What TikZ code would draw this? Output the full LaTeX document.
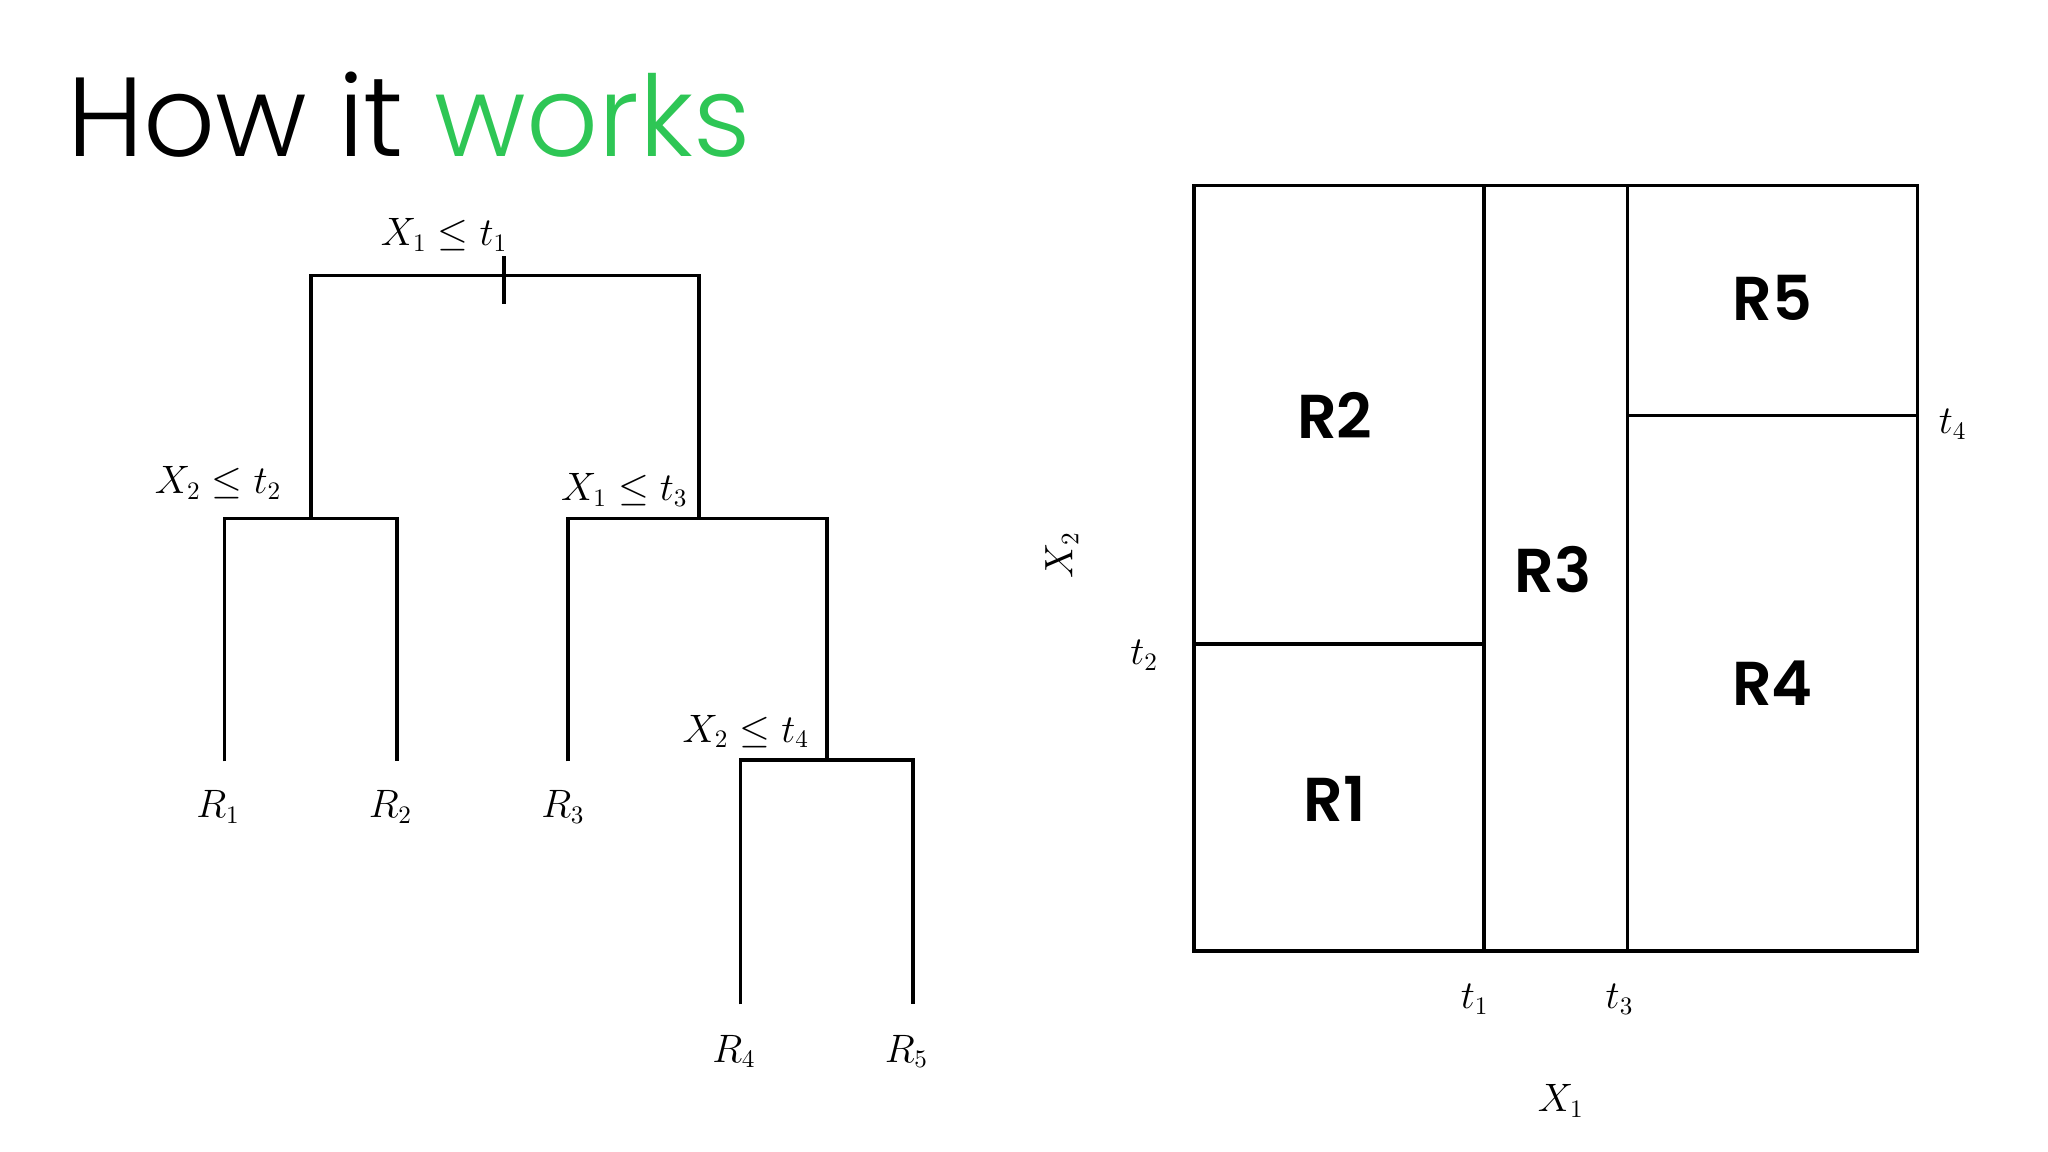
\documentclass[tikz,border=0pt]{standalone}
\usepackage{fontspec}
\newfontfamily\titlefont{Poppins Light}
\newfontfamily\regfont{Poppins SemiBold}
\definecolor{tgreen}{HTML}{2EC655}
\begin{document}
\begin{tikzpicture}[x=0.02cm,y=-0.02cm,line width=1.6pt,
  lab/.style={font=\fontsize{16}{19}\selectfont,inner sep=1pt},
  reg/.style={font=\regfont\fontsize{27}{30}\selectfont,inner sep=0pt}]
\useasboundingbox (0,0) rectangle (1568,882);
\node[anchor=base west,inner sep=0pt,font=\titlefont\fontsize{49}{54}\selectfont] (title) at (50,120) {How it \textcolor{tgreen}{works}};
% tree
\coordinate (a1) at (238,211); \coordinate (a2) at (535,211);
\draw (238,397) -- (a1) -- (a2) -- (535,397);
\draw (386,196) -- (386,233);
\node[lab] (l1) at (340,180) {$X_1\le t_1$};
\draw (172,583) -- (172,397) -- (304,397) -- (304,583);
\node[lab] (l2) at (167,370) {$X_2\le t_2$};
\draw (435,583) -- (435,397) -- (633,397) -- (633,582);
\node[lab] (l3) at (478,375) {$X_1\le t_3$};
\draw (567,769) -- (567,582) -- (699,582) -- (699,769);
\node[lab] (l4) at (571,560) {$X_2\le t_4$};
\node[lab] (r1) at (167,618) {$R_1$};
\node[lab] (r2) at (299,618) {$R_2$};
\node[lab] (r3) at (431,618) {$R_3$};
\node[lab] (r4) at (562,805) {$R_4$};
\node[lab] (r5) at (694,805) {$R_5$};
% partition
\draw (914,142) rectangle (1468,728);
\draw (1136,142) -- (1136,728);
\draw (1246,142) -- (1246,728);
\draw (914,493) -- (1136,493);
\draw (1246,318) -- (1468,318);
\node[reg] (R2) at (1022,318) {R2};
\node[reg] (R1) at (1022,612) {R1};
\node[reg] (R3) at (1189,436) {R3};
\node[reg] (R5) at (1357,228) {R5};
\node[reg] (R4) at (1357,523) {R4};
\node[lab] (t4) at (1495,325) {$t_4$};
\node[lab] (t2) at (876,502) {$t_2$};
\node[lab] (t1) at (1129,765) {$t_1$};
\node[lab] (t3) at (1240,765) {$t_3$};
\node[lab] (x1) at (1195,843) {$X_1$};
\node[lab,rotate=90] (x2) at (813,425) {$X_2$};
\end{tikzpicture}
\end{document}
